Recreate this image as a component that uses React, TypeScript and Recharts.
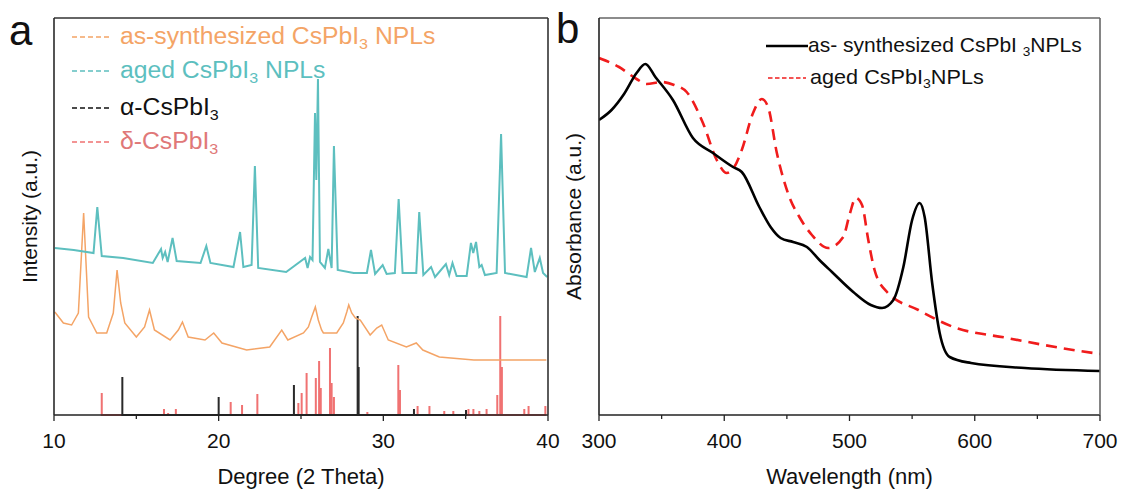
import { ComposedChart, Line, XAxis, YAxis } from "recharts";

// XRD, panel a (intensity in a.u.)
const agedAngle = [
  10.05, 11.2, 12.4, 12.63, 12.9, 14.2, 16.0, 16.5, 16.6, 16.75, 16.9, 17.2, 17.45, 18.9, 19.25, 19.5,
  20.9, 21.3, 21.5, 22.0, 22.2, 22.4, 24.1, 25.25, 25.4, 25.55, 25.7, 25.85, 25.93, 26.03, 26.15, 26.45,
  26.66, 26.86, 27.0, 27.23, 28.2, 29.0, 29.25, 29.5, 29.96, 30.2, 30.7, 30.93, 31.17, 32.0, 32.18, 32.43,
  32.9, 33.14, 33.8, 34.0, 34.2, 34.45, 35.06, 35.32, 35.46, 35.63, 35.83, 35.97, 36.17, 36.88, 37.15, 37.39,
  38.7, 38.97, 39.2, 39.5, 39.7, 39.95,
];
const agedCounts = [
  167, 165, 162, 208, 159, 157, 152, 166, 157, 163, 153, 177, 154, 152, 169, 152,
  148, 183, 148, 150, 249, 147, 143, 157, 147, 158, 155, 302, 235, 336, 153, 147,
  166, 147, 269, 145, 142, 142, 165, 141, 150, 141, 142, 216, 142, 142, 203, 140,
  148, 138, 151, 140, 152, 139, 139, 172, 162, 173, 148, 150, 140, 142, 281, 142,
  138, 167, 143, 157, 142, 138,
];

const asSynAngle = [
  10.05, 10.57, 11.07, 11.48, 11.8, 12.1, 12.6, 13.2, 13.6, 13.83, 14.05, 14.3, 15.0, 15.5, 15.8, 16.1,
  17.05, 17.55, 17.8, 18.15, 19.17, 19.7, 20.2, 21.7, 23.1, 23.83, 24.2, 25.15, 25.45, 25.65, 25.87, 26.05,
  26.25, 26.36, 27.17, 27.57, 27.78, 27.9, 28.08, 28.3, 28.6, 29.2, 29.6, 29.9, 30.3, 31.4, 32.0, 32.4,
  33.4, 35.5, 39.9,
];
const asSynCounts = [
  103, 92, 90, 102, 202, 98, 82, 82, 102, 145, 112, 92, 78, 88, 105, 85,
  75, 85, 93, 78, 75, 82, 72, 65, 68, 85, 75, 82, 88, 98, 108, 95,
  85, 82, 82, 92, 103, 110, 102, 97, 95, 80, 87, 90, 75, 68, 72, 65,
  58, 55, 55,
];

const alphaAngle = [14.15, 20.0, 24.57, 28.44, 28.5, 31.86, 35.02];
const alphaCounts = [38, 18, 30, 99, 48, 6, 5];

const deltaAngle = [
  12.9, 16.68, 16.93, 17.4, 20.73, 21.42, 22.35, 24.84, 25.04, 25.34, 25.9, 26.1, 26.2, 26.76, 26.86, 27.0,
  29.03, 30.91, 31.01, 32.08, 32.8, 33.7, 34.25, 35.17, 35.47, 35.83, 36.27, 36.92, 37.1, 37.2, 38.56, 38.82, 39.84,
];
const deltaCounts = [
  22, 6, 2, 6, 13, 10, 21, 12, 22, 42, 37, 54, 27, 67, 32, 18,
  3, 50, 25, 9, 9, 4, 4, 6, 6, 4, 6, 20, 99, 48, 6, 9, 9,
];

// Absorption, panel b
const asSynNm = [
  300, 310, 320, 330, 337, 345, 359, 375, 391, 407, 414, 428, 437, 445, 455, 466, 476, 486, 503, 517,
  526, 535, 543, 550, 556, 560, 566, 572, 580, 597, 640, 700,
];
const asSynAbs = [
  295, 305, 321, 342, 351, 338, 315, 277, 262, 248, 243, 208, 188, 177, 173, 168, 155, 143, 123, 110,
  107, 115, 148, 195, 212, 198, 132, 82, 58, 52, 47, 44,
];
const agedNm = [
  300, 316, 330, 338, 350, 360, 370, 383, 394, 402, 408, 414, 423, 430, 435, 442, 452, 460, 470, 483,
  495, 500, 505, 510, 515, 520, 530, 555, 583, 626, 669, 700,
];
const agedAbs = [
  357, 348, 336, 331, 333, 330, 323, 292, 255, 242, 248, 265, 302, 316, 308, 262, 218, 198, 180, 167,
  178, 200, 217, 210, 175, 145, 123, 105, 88, 77, 67, 61,
];

const COLORS = {
  asSyn: "#f4a466",
  aged: "#5dbfbf",
  alpha: "#2a2a2a",
  delta: "#f07272",
  absRed: "#f01c1c",
};
const FONT = "'Liberation Sans', Arial, sans-serif";
const HIDDEN_TICK_LINE = { stroke: "transparent" };

const toPoints = (xs: number[], ys: number[]) => xs.map((x, i) => ({ x, y: ys[i] }));
const toSticks = (xs: number[], ys: number[]) =>
  xs.flatMap((x, i) => [
    { x, y: 0 },
    { x, y: ys[i] },
    { x, y: 0 },
  ]);

const NoTick = () => <g />;

function makeTick(majors: number[]) {
  return (props: any) => {
    const { x, y, payload } = props;
    const major = majors.includes(payload.value);
    return (
      <g>
        <line x1={x} x2={x} y1={y} y2={y + (major ? 6 : 4)} stroke="#222" strokeWidth={1.3} />
        {major && (
          <text x={x} y={y + 33} textAnchor="middle" fontSize={21} fontFamily={FONT} fill="#111">
            {payload.value}
          </text>
        )}
      </g>
    );
  };
}

function XTitle({ viewBox, text }: any) {
  return (
    <text
      x={viewBox.x + viewBox.width / 2}
      y={viewBox.y + 69}
      textAnchor="middle"
      fontSize={22}
      fontFamily={FONT}
      fill="#111"
    >
      {text}
    </text>
  );
}

function YTitle({ viewBox, text, bx }: any) {
  const cy = viewBox.y + viewBox.height / 2;
  return (
    <text
      transform={`translate(${bx},${cy}) rotate(-90)`}
      textAnchor="middle"
      fontSize={21}
      fontFamily={FONT}
      fill="#111"
    >
      {text}
    </text>
  );
}

const Sub = ({ children }: any) => (
  <span style={{ fontSize: "0.65em", position: "relative", top: "0.35em" }}>{children}</span>
);

function LegendRow({ top, left, color, dash, width, textLeft, fontSize, textColor, stretch = 1, children }: any) {
  return (
    <div
      style={{
        position: "absolute",
        top: top - 12,
        left,
        height: 24,
        display: "flex",
        alignItems: "center",
        whiteSpace: "nowrap",
        fontFamily: FONT,
        fontSize,
        color: textColor,
      }}
    >
      <svg width={width} height={24} style={{ marginRight: textLeft }}>
        <line x1={0} x2={width} y1={12} y2={12} stroke={color} strokeWidth={dash ? 1.6 : 2.6} strokeDasharray={dash} />
      </svg>
      <span style={{ lineHeight: "24px", display: "inline-block", transform: `scaleX(${stretch})`, transformOrigin: "left center" }}>
        {children}
      </span>
    </div>
  );
}

function XrdPanel() {
  return (
    <ComposedChart width={560} height={492} margin={{ top: 0, right: 0, bottom: 0, left: 0 }}>
      <XAxis
        dataKey="x"
        type="number"
        domain={[10, 40]}
        ticks={[10, 15, 20, 25, 30, 35, 40]}
        interval={0}
        height={77}
        tickSize={0}
        tickMargin={0}
        tickLine={false}
        tick={makeTick([10, 20, 30, 40])}
        axisLine={{ stroke: "#222", strokeWidth: 1.5 }}
        allowDataOverflow
        label={<XTitle text="Degree (2 Theta)" />}
      />
      <XAxis
        xAxisId="top"
        orientation="top"
        dataKey="x"
        type="number"
        domain={[10, 40]}
        height={18}
        tick={NoTick}
        tickLine={HIDDEN_TICK_LINE}
        axisLine={{ stroke: "#333", strokeWidth: 1.6 }}
      />
      <YAxis
        dataKey="y"
        type="number"
        domain={[0, 397]}
        width={54}
        tick={NoTick}
        tickLine={HIDDEN_TICK_LINE}
        axisLine={{ stroke: "#2a2a2a", strokeWidth: 1.6 }}
        label={<YTitle text="Intensity (a.u.)" bx={37} />}
      />
      <YAxis
        yAxisId="right"
        orientation="right"
        dataKey="y"
        type="number"
        domain={[0, 397]}
        width={12}
        tick={NoTick}
        tickLine={HIDDEN_TICK_LINE}
        axisLine={{ stroke: "#333", strokeWidth: 1.6 }}
      />
      <Line data={toSticks(deltaAngle, deltaCounts)} dataKey="y" stroke={COLORS.delta} strokeWidth={2} dot={false} isAnimationActive={false} />
      <Line data={toSticks(alphaAngle, alphaCounts)} dataKey="y" stroke={COLORS.alpha} strokeWidth={2} dot={false} isAnimationActive={false} />
      <Line data={toPoints(asSynAngle, asSynCounts)} dataKey="y" stroke={COLORS.asSyn} strokeWidth={1.5} dot={false} isAnimationActive={false} />
      <Line data={toPoints(agedAngle, agedCounts)} dataKey="y" stroke={COLORS.aged} strokeWidth={2} dot={false} isAnimationActive={false} />
      {/* invisible copy bound to the top/right axes so they get a domain */}
      <Line data={toPoints(agedAngle, agedCounts)} dataKey="y" xAxisId="top" yAxisId="right" stroke="none" dot={false} legendType="none" isAnimationActive={false} />
    </ComposedChart>
  );
}

function AbsPanel() {
  return (
    <ComposedChart width={561} height={492} margin={{ top: 0, right: 0, bottom: 0, left: 0 }}>
      <XAxis
        dataKey="x"
        type="number"
        domain={[300, 700]}
        ticks={[300, 350, 400, 450, 500, 550, 600, 650, 700]}
        interval={0}
        height={77}
        tickSize={0}
        tickMargin={0}
        tickLine={false}
        tick={makeTick([300, 400, 500, 600, 700])}
        axisLine={{ stroke: "#222", strokeWidth: 1.5 }}
        allowDataOverflow
        label={<XTitle text="Wavelength (nm)" />}
      />
      <XAxis
        xAxisId="top"
        orientation="top"
        dataKey="x"
        type="number"
        domain={[300, 700]}
        height={18}
        tick={NoTick}
        tickLine={HIDDEN_TICK_LINE}
        axisLine={{ stroke: "#666", strokeWidth: 1.6 }}
      />
      <YAxis
        dataKey="y"
        type="number"
        domain={[0, 397]}
        width={39}
        tick={NoTick}
        tickLine={HIDDEN_TICK_LINE}
        axisLine={{ stroke: "#222", strokeWidth: 1.6 }}
        label={<YTitle text="Absorbance (a.u.)" bx={21} />}
      />
      <YAxis
        yAxisId="right"
        orientation="right"
        dataKey="y"
        type="number"
        domain={[0, 397]}
        width={21}
        tick={NoTick}
        tickLine={HIDDEN_TICK_LINE}
        axisLine={{ stroke: "#666", strokeWidth: 1.6 }}
      />
      <Line data={toPoints(agedNm, agedAbs)} dataKey="y" type="monotone" stroke={COLORS.absRed} strokeWidth={2.6} strokeDasharray="11 7" dot={false} isAnimationActive={false} />
      <Line data={toPoints(asSynNm, asSynAbs)} dataKey="y" type="monotone" stroke="#000" strokeWidth={2.6} dot={false} isAnimationActive={false} />
      <Line data={toPoints(asSynNm, asSynAbs)} dataKey="y" xAxisId="top" yAxisId="right" stroke="none" dot={false} legendType="none" isAnimationActive={false} />
    </ComposedChart>
  );
}

export default function App() {
  const label = { position: "absolute" as const, fontFamily: FONT, fontSize: 42, lineHeight: "42px", color: "#111" };
  return (
    <div style={{ position: "absolute", left: 0, top: 0, width: 1121, height: 492, background: "#fff" }}>
      <div style={{ position: "absolute", left: 0, top: 0 }}>
        <XrdPanel />
      </div>
      <div style={{ position: "absolute", left: 560, top: 0 }}>
        <AbsPanel />
      </div>
      <div style={{ ...label, left: 9, top: 10 }}>a</div>
      <div style={{ ...label, left: 556, top: 8 }}>b</div>

      <LegendRow top={37} left={72} color={COLORS.asSyn} dash="5 3" width={40} textLeft={8} fontSize={23} stretch={1.075} textColor={COLORS.asSyn}>
        as-synthesized CsPbI<Sub>3</Sub> NPLs
      </LegendRow>
      <LegendRow top={71} left={72} color={COLORS.aged} dash="5 3" width={40} textLeft={8} fontSize={23} stretch={1.075} textColor={COLORS.aged}>
        aged CsPbI<Sub>3</Sub> NPLs
      </LegendRow>
      <LegendRow top={108} left={72} color="#111" dash="5 3" width={40} textLeft={8} fontSize={23} stretch={1.075} textColor="#111">
        α-CsPbI<Sub>3</Sub>
      </LegendRow>
      <LegendRow top={142} left={72} color={COLORS.delta} dash="5 3" width={40} textLeft={8} fontSize={23} stretch={1.075} textColor="#e07878">
        δ-CsPbI<Sub>3</Sub>
      </LegendRow>

      <LegendRow top={46} left={766} width={42} textLeft={0} fontSize={21} textColor="#111" color="#000">
        as- synthesized CsPbI <Sub>3</Sub>NPLs
      </LegendRow>
      <LegendRow top={78} left={768} width={38} dash="4.5 2.5" textLeft={4} fontSize={21} stretch={1.03} textColor="#111" color={COLORS.absRed}>
        aged CsPbI<Sub>3</Sub>NPLs
      </LegendRow>
    </div>
  );
}
